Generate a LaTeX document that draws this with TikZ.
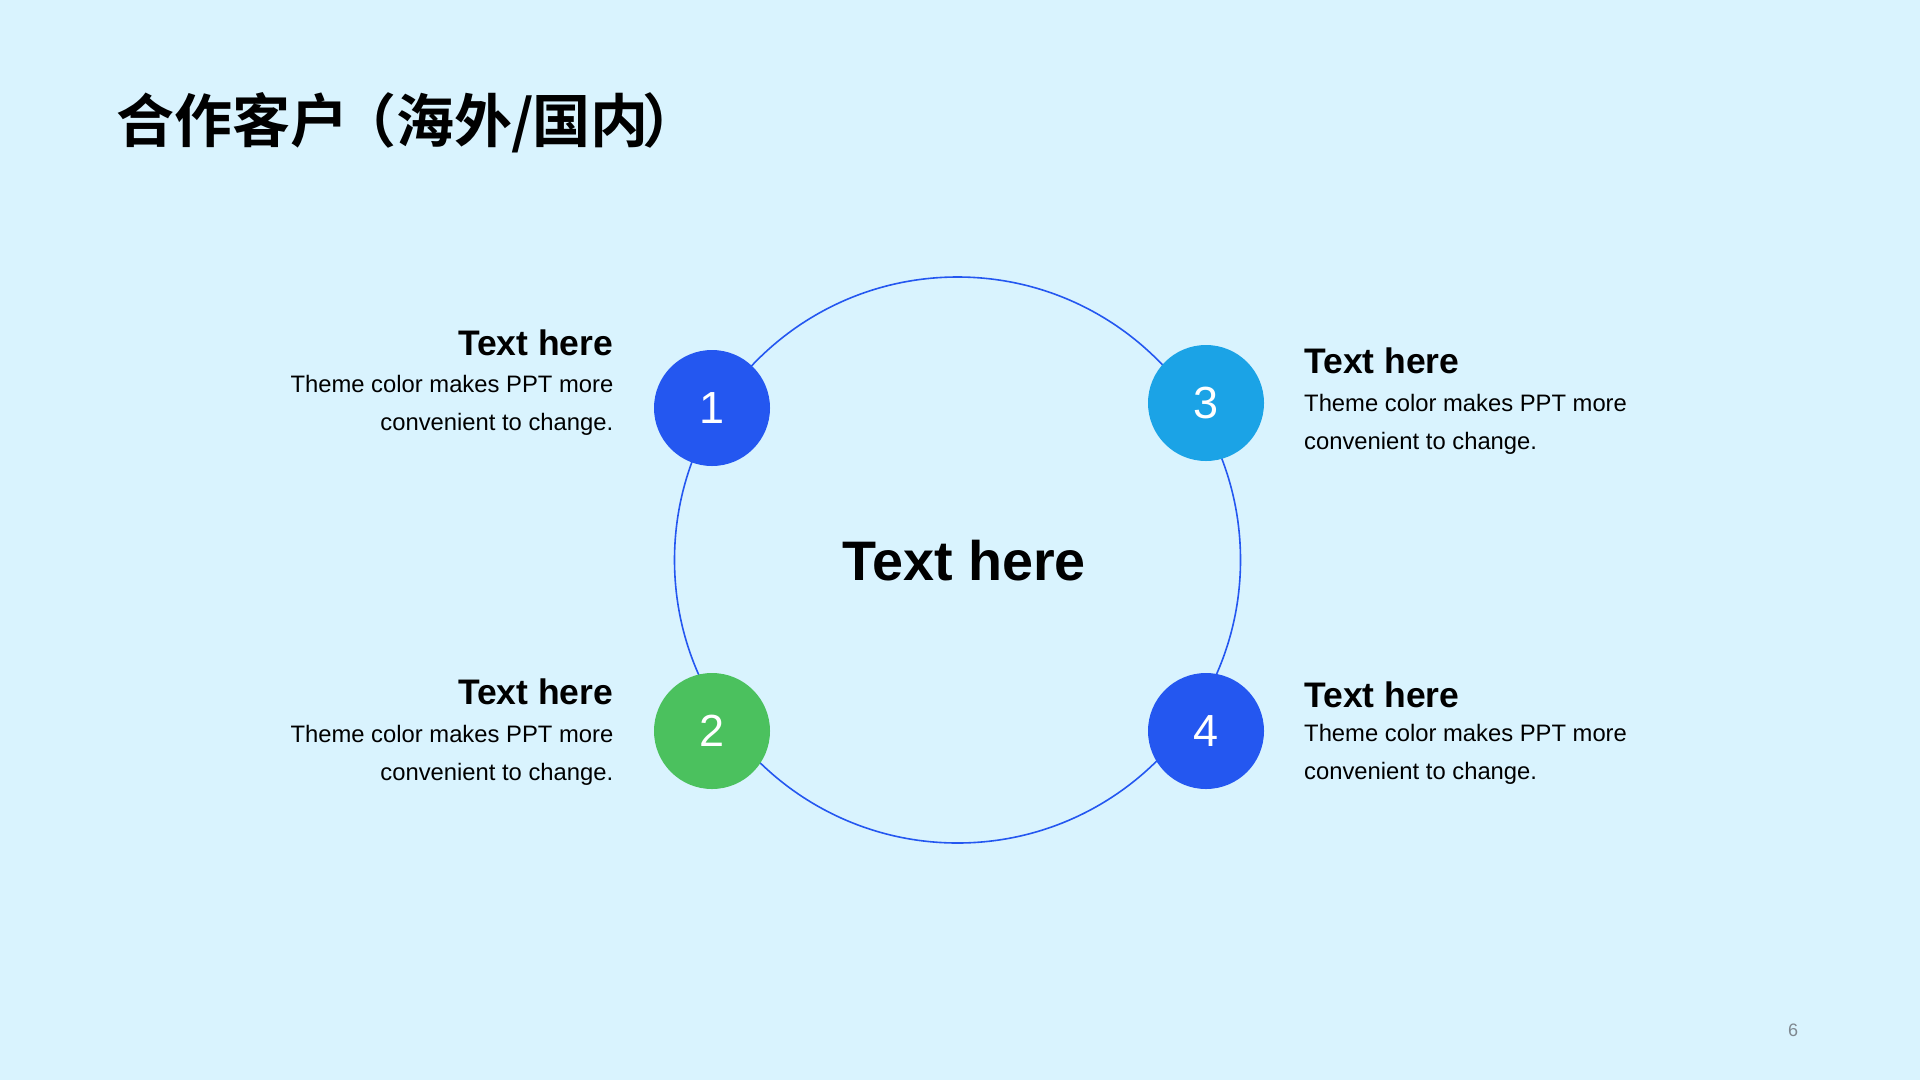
\documentclass[tikz,border=0pt]{standalone}
\usepackage{fontspec}
\setmainfont{Liberation Sans}
\newfontfamily\cjkbold{Noto Sans CJK SC Bold}
\definecolor{bgc}{HTML}{D9F3FE}
\definecolor{blueA}{HTML}{2457F0}
\definecolor{cyanA}{HTML}{1BA3E6}
\definecolor{greenA}{HTML}{4BC15E}
\definecolor{pgnum}{HTML}{7F8890}
\tikzset{
  numdot/.style={circle,inner sep=0pt,minimum size=116pt,text=white,font=\fontsize{45}{45}\selectfont},
  headL/.style={inner sep=0pt,anchor=base east,font=\fontsize{35.5}{35.5}\selectfont\bfseries},
  headR/.style={inner sep=0pt,anchor=base west,font=\fontsize{35.5}{35.5}\selectfont\bfseries},
  bodyL/.style={inner sep=0pt,anchor=base east,font=\fontsize{23.8}{23.8}\selectfont},
  bodyR/.style={inner sep=0pt,anchor=base west,font=\fontsize{23.8}{23.8}\selectfont},
}
\begin{document}
\begin{tikzpicture}[x=1pt,y=-1pt]
\fill[bgc] (0,0) rectangle (1920,1080);
\useasboundingbox (0,0) rectangle (1920,1080);
% title
\node[inner sep=0pt,anchor=base west,font=\cjkbold\fontsize{58}{58}\selectfont] (title) at (116,142) {合作客户\kern-10pt（海外\kern-1pt/\kern-1pt国内\kern-6pt）};
% ring
\node[circle,draw=blueA,line width=1.6pt,minimum size=566pt,inner sep=0pt] (ring) at (957.5,560) {};
\node[inner sep=0pt,anchor=base,font=\fontsize{55.7}{55.7}\selectfont\bfseries] (center) at (964,580) {Text here};
% numbered dots
\node[numdot,fill=blueA] (n1) at (712,408) {1};
\node[numdot,fill=greenA] (n2) at (712,731) {2};
\node[numdot,fill=cyanA] (n3) at (1206,403) {3};
\node[numdot,fill=blueA] (n4) at (1206,731) {4};
% left top
\node[headL] (t1) at (613.5,355.7) {Text here};
\node[bodyL] (b1a) at (613.5,392.7) {Theme color makes PPT more};
\node[bodyL] (b1b) at (613.5,430) {convenient to change.};
% left bottom
\node[headL] (t2) at (613.5,704.3) {Text here};
\node[bodyL] (b2a) at (613.5,742.3) {Theme color makes PPT more};
\node[bodyL] (b2b) at (613.5,780) {convenient to change.};
% right top
\node[headR] (t3) at (1304,373.3) {Text here};
\node[bodyR] (b3a) at (1304,411.7) {Theme color makes PPT more};
\node[bodyR] (b3b) at (1304,449) {convenient to change.};
% right bottom
\node[headR] (t4) at (1304,707.7) {Text here};
\node[bodyR] (b4a) at (1304,741.7) {Theme color makes PPT more};
\node[bodyR] (b4b) at (1304,779) {convenient to change.};
% page number
\node[inner sep=0pt,text=pgnum,font=\fontsize{18}{18}\selectfont] (pg) at (1793,1030) {6};
\end{tikzpicture}
\end{document}
